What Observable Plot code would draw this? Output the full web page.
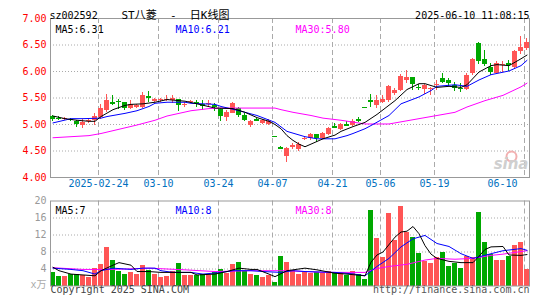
<!DOCTYPE html>
<html><head><meta charset="utf-8">
<script src="https://cdn.jsdelivr.net/npm/d3@7"></script>
<script src="https://cdn.jsdelivr.net/npm/@observablehq/plot@0.6"></script>
<style>
body{margin:0;background:#fff;}
#wrap{position:relative;width:545px;height:300px;overflow:hidden;background:#fff;}
#wrap svg{position:absolute;left:0;}
#wrap svg text{white-space:pre;}
</style></head><body><div id="wrap"></div>
<script>
// ---- data ----
const stockCode = "sz002592";
const chartTitle = "ST八菱  -  日K线图";
const stamp = "2025-06-10 11:08:15";
const tickIdx = [8, 18, 28, 37, 47, 55, 64, 79];
const tickLabels = ["2025-02-24", "03-10", "03-24", "04-07", "04-21", "05-06", "05-19", "06-10"];
const priceTicks = [7.0, 6.5, 6.0, 5.5, 5.0, 4.5, 4.0];
const priceGrid = [6.5, 6.0, 5.5, 5.0, 4.5];
const volTicks = [20, 16, 12, 8, 4];
const volGrid = [16, 12, 8, 4];
const priceMaLabels = ["MA5:6.31", "MA10:6.21", "MA30:5.80"];
const volMaLabels = ["MA5:7", "MA10:8", "MA30:8"];
const volUnit = "x万";
const copyright = "Copyright 2025 SINA.COM";
const siteUrl = "http://finance.sina.com.cn";

const open = [5.15,5.12,5.09,5.10,5.06,4.98,5.06,5.08,5.14,5.26,
  5.41,5.44,5.41,5.31,5.32,5.33,5.52,5.43,5.45,5.45,
  5.45,5.47,5.36,5.42,5.41,5.37,5.39,5.36,5.28,5.13,
  5.21,5.30,5.17,4.98,5.09,5.02,5.00,4.77,4.56,4.40,
  4.57,4.53,4.72,4.74,4.81,4.73,4.81,4.96,4.90,5.00,
  4.99,5.09,5.32,5.45,5.35,5.42,5.45,5.58,5.64,5.83,
  5.88,5.70,5.66,5.67,5.75,5.86,5.83,5.74,5.68,5.66,
  5.97,6.53,6.23,6.08,5.96,6.12,6.15,6.08,6.37,6.43];
const close = [5.10,5.11,5.11,5.09,5.00,5.04,5.08,5.15,5.31,5.45,
  5.40,5.43,5.31,5.37,5.35,5.55,5.51,5.48,5.47,5.48,
  5.49,5.36,5.37,5.43,5.40,5.36,5.40,5.32,5.15,5.23,
  5.40,5.17,5.08,5.06,5.08,5.08,5.05,4.77,4.54,4.54,
  4.60,4.63,4.73,4.81,4.74,4.83,4.93,4.95,5.00,4.99,
  5.06,5.08,5.32,5.44,5.45,5.48,5.72,5.64,5.91,5.89,
  5.75,5.69,5.73,5.68,5.76,5.79,5.77,5.67,5.67,5.92,
  6.22,6.18,6.13,5.99,6.15,6.13,6.14,6.38,6.46,6.55];
const high = [5.17,5.16,5.13,5.12,5.08,5.10,5.12,5.20,5.37,5.56,
  5.55,5.47,5.42,5.45,5.37,5.61,5.62,5.50,5.50,5.55,
  5.55,5.48,5.42,5.46,5.45,5.45,5.45,5.39,5.31,5.26,
  5.42,5.33,5.20,5.08,5.12,5.10,5.09,4.77,4.58,4.56,
  4.64,4.66,4.76,4.83,4.82,4.84,4.95,5.01,5.01,5.06,
  5.09,5.14,5.32,5.57,5.55,5.55,5.74,5.68,5.94,6.02,
  5.89,5.75,5.75,5.70,5.83,5.97,5.86,5.80,5.77,5.96,
  6.24,6.54,6.40,6.15,6.18,6.18,6.20,6.40,6.66,6.62];
const low = [5.06,5.07,5.07,5.05,4.95,4.92,5.02,4.99,5.10,5.23,
  5.36,5.29,5.26,5.29,5.30,5.30,5.42,5.41,5.42,5.44,
  5.40,5.25,5.32,5.39,5.32,5.27,5.34,5.25,5.06,5.06,
  5.20,5.13,5.05,4.95,5.05,5.00,4.98,4.77,4.53,4.29,
  4.53,4.50,4.69,4.70,4.66,4.72,4.80,4.92,4.88,4.96,
  4.97,5.04,5.32,5.33,5.30,5.39,5.42,5.55,5.63,5.77,
  5.64,5.64,5.57,5.55,5.64,5.77,5.71,5.63,5.61,5.64,
  5.93,6.13,6.10,5.93,5.94,5.99,6.00,6.06,6.33,6.40];
const volume = [3.2,2.2,2.2,2.7,2.8,2.4,2.0,4.1,5.0,9.0,
  6.0,3.5,2.8,3.2,2.7,4.8,3.6,2.8,2.0,2.3,
  3.3,5.3,2.4,2.4,2.4,2.8,2.4,3.1,3.9,3.0,
  5.0,5.5,3.4,2.8,2.4,2.1,2.4,0.9,6.9,5.5,
  3.6,2.8,3.4,3.0,3.1,2.9,3.3,3.0,2.9,2.4,
  3.4,2.8,1.5,17.8,11.1,6.7,17.0,10.8,18.8,12.7,
  11.4,7.6,5.8,5.3,6.7,8.0,4.5,5.3,4.1,6.9,
  6.7,17.3,10.2,7.5,5.9,5.9,6.9,9.6,10.2,4.0];

// moving-average lines (index, value)
const ma5Idx = [0,2,4,6,7,8,10,12,13,15,17,19,21,22,24,27,30,32,34,36,37,38,39,40,41,42,43,45,47,48,50,52,54,57,59,61,62,64,66,68,69,71,73,74,76,78,79];
const ma5Val = [5.16,5.11,5.08,5.06,5.06,5.15,5.28,5.36,5.38,5.39,5.42,5.47,5.45,5.44,5.39,5.31,5.30,5.23,5.13,5.06,5.00,4.92,4.79,4.70,4.63,4.58,4.63,4.73,4.80,4.87,4.96,5.04,5.19,5.45,5.66,5.77,5.77,5.70,5.72,5.70,5.75,5.99,6.11,6.13,6.11,6.24,6.31];
const ma10Idx = [0,3,5,8,9,12,14,16,17,19,22,23,27,28,31,34,37,39,42,44,47,49,50,52,53,56,58,61,63,64,67,69,71,73,76,78,79];
const ma10Val = [5.03,5.11,5.11,5.12,5.15,5.21,5.26,5.34,5.40,5.42,5.42,5.40,5.38,5.34,5.26,5.17,5.04,4.87,4.77,4.73,4.73,4.79,4.83,4.92,4.98,5.17,5.39,5.52,5.64,5.72,5.75,5.72,5.84,5.94,6.01,6.11,6.21];
const ma30Idx = [0,6,8,11,14,17,19,23,26,28,37,38,40,43,45,48,52,56,58,61,64,67,69,72,75,78,79];
const ma30Val = [4.75,4.79,4.83,4.91,4.99,5.08,5.16,5.26,5.30,5.31,5.31,5.28,5.23,5.17,5.12,5.08,5.01,5.01,5.05,5.11,5.17,5.23,5.33,5.45,5.55,5.71,5.78];

const vma5Idx = [0,1,3,5,7,8,10,11,13,14,16,18,21,23,24,27,29,31,33,34,36,37,39,42,44,47,49,52,53,54,55,57,58,59,60,61,62,63,64,66,68,70,71,72,73,75,76,78,79];
const vma5Val = [4.4,3.6,2.8,2.6,2.4,3.6,4.9,5.5,4.9,3.4,3.4,3.2,3.2,3.2,2.6,2.8,3.4,4.2,3.9,3.9,2.8,2.2,3.6,4.2,3.8,3.0,2.8,2.4,5.6,7.3,8.0,11.5,12.7,12.9,14.0,12.3,9.5,7.5,6.5,5.8,5.5,5.5,7.0,8.6,9.2,9.3,7.3,7.2,7.4];
const vma10Idx = [0,3,5,7,8,10,13,15,17,18,20,23,25,28,30,33,35,38,40,42,47,50,52,54,56,58,60,62,64,66,68,70,73,75,78,79];
const vma10Val = [4.2,3.9,3.6,2.8,3.6,4.2,3.9,4.2,4.2,3.6,3.2,3.2,2.8,3.2,3.6,3.6,3.4,3.2,3.6,3.4,3.2,2.85,2.4,4.6,6.5,9.2,11.1,11.9,10.0,9.3,7.6,6.5,7.6,8.3,8.8,8.4];
const vma30Idx = [0,5,10,16,22,27,33,39,45,52,54,56,59,62,64,67,70,73,75,79];
const vma30Val = [4.3,3.9,3.9,4.2,3.8,3.4,3.6,3.6,3.2,3.2,4.1,4.6,5.1,6.1,6.5,6.3,6.5,7.2,7.5,8.3];

// ---- styles ----
const RED = "#ff5555", GREEN = "#00a800";
const FONT = "DejaVu Sans Mono";
const GRIDC = "#aaaaaa", FRAMEC = "#999999";

const bars = open.map((o, i) => ({i, o, c: close[i], h: high[i], l: low[i], v: volume[i]}));
const up = bars.filter(d => d.c > d.o);
const dn = bars.filter(d => d.c <= d.o);
const W = 5 / 6, MID = 2 / 6, LMID = 2.5 / 6;

function candleMarks(g, col) {
  return [
    Plot.ruleX(g, {x: d => d.i + MID, y1: "l", y2: "h", stroke: col, shapeRendering: "crispEdges"}),
    Plot.rect(g, {x1: "i", x2: d => d.i + W, y1: "o", y2: "c", fill: col, shapeRendering: "crispEdges"}),
    Plot.ruleY(g.filter(d => Math.abs(d.c - d.o) < 0.03), {x1: "i", x2: d => d.i + W, y: "c", stroke: col, shapeRendering: "crispEdges"})
  ];
}
function maLine(idx, vals, col) {
  return Plot.line(idx, {x: d => d + LMID, y: (d, k) => vals[k], stroke: col, strokeWidth: 1});
}

const xDomain = [0, 79.8333];

const price = Plot.plot({
  width: 545, height: 192,
  marginLeft: 50, marginRight: 16, marginTop: 18, marginBottom: 15,
  x: {domain: xDomain, axis: null},
  y: {domain: [4, 7], axis: null},
  style: {fontFamily: FONT, fontSize: "10px", background: "transparent", overflow: "visible"},
  marks: [
    Plot.ruleY(priceGrid, {stroke: GRIDC, strokeDasharray: "1,2"}),
    Plot.ruleX(tickIdx, {stroke: GRIDC, strokeDasharray: "5,3"}),
    Plot.frame({stroke: FRAMEC}),
    // sina watermark (logo ring + word)
    Plot.dot([0], {frameAnchor: "bottom-right", dx: -18, dy: -21, r: 5, stroke: "#f2b0b0", strokeWidth: 2, fill: "none"}),
    Plot.text(["sina"], {frameAnchor: "bottom-right", dx: -1, dy: -9, textAnchor: "end", fill: "#cfcfcf", fontSize: 15, fontStyle: "italic", fontWeight: "bold", fontFamily: "DejaVu Sans"}),
    ...candleMarks(up, RED),
    ...candleMarks(dn, GREEN),
    maLine(ma30Idx, ma30Val, "#ff00ff"),
    maLine(ma10Idx, ma10Val, "#0000ff"),
    maLine(ma5Idx, ma5Val, "#000000"),
    // y labels
    Plot.text(priceTicks, {y: d => d, text: d => d.toFixed(2), frameAnchor: "left", dx: -4, textAnchor: "end", fill: "#ff0000"}),
    // x labels
    Plot.text(tickIdx.slice(0, -1), {x: d => d, text: (d, k) => tickLabels[k], frameAnchor: "bottom", dy: 9, fill: "#0070c0"}),
    Plot.text(tickIdx.slice(-1), {x: d => d, text: () => tickLabels[tickLabels.length - 1], frameAnchor: "bottom", dy: 9, dx: -7, textAnchor: "end", fill: "#0070c0"}),
    // MA labels
    Plot.text([priceMaLabels[0]], {frameAnchor: "top-left", dx: 5, dy: 7, textAnchor: "start", fill: "#000"}),
    Plot.text([priceMaLabels[1]], {frameAnchor: "top-left", dx: 125, dy: 7, textAnchor: "start", fill: "#0000ff"}),
    Plot.text([priceMaLabels[2]], {frameAnchor: "top-left", dx: 245, dy: 7, textAnchor: "start", fill: "#ff00ff"}),
    // header
    Plot.text([stockCode], {frameAnchor: "top-left", dx: -1, dy: -6.5, textAnchor: "start", fill: "#000"}),
    Plot.text([chartTitle], {frameAnchor: "top-left", dx: 71, dy: -7, textAnchor: "start", fill: "#000", fontFamily: "DejaVu Sans Mono, Noto Sans CJK SC", fontSize: 11}),
    Plot.text([stamp], {frameAnchor: "top-right", dx: 0, dy: -6.5, textAnchor: "end", fill: "#000"})
  ]
});
price.style.top = "0px";

const vol = Plot.plot({
  width: 545, height: 110,
  marginLeft: 50, marginRight: 16, marginTop: 10.5, marginBottom: 14.5,
  x: {domain: xDomain, axis: null},
  y: {domain: [0, 20], axis: null},
  style: {fontFamily: FONT, fontSize: "10px", background: "transparent", overflow: "visible"},
  marks: [
    Plot.ruleY(volGrid, {stroke: GRIDC, strokeDasharray: "1,2"}),
    Plot.ruleX(tickIdx, {stroke: GRIDC, strokeDasharray: "5,3"}),
    Plot.rect(up, {x1: "i", x2: d => d.i + W, y1: () => 0, y2: "v", fill: RED, shapeRendering: "crispEdges"}),
    Plot.rect(dn, {x1: "i", x2: d => d.i + W, y1: () => 0, y2: "v", fill: GREEN, shapeRendering: "crispEdges"}),
    maLine(vma30Idx, vma30Val, "#ff00ff"),
    maLine(vma10Idx, vma10Val, "#0000ff"),
    maLine(vma5Idx, vma5Val, "#000000"),
    Plot.frame({stroke: FRAMEC}),
    Plot.text(volTicks, {y: d => d, text: d => String(d), frameAnchor: "left", dx: -4, textAnchor: "end", fill: "#999"}),
    Plot.text([volUnit], {frameAnchor: "bottom-left", dx: -4, dy: 2, textAnchor: "end", fill: "#aaa", fontFamily: "DejaVu Sans Mono, Noto Sans CJK SC"}),
    Plot.text([volMaLabels[0]], {frameAnchor: "top-left", dx: 5, dy: 5.5, textAnchor: "start", fill: "#000"}),
    Plot.text([volMaLabels[1]], {frameAnchor: "top-left", dx: 125, dy: 5.5, textAnchor: "start", fill: "#0000ff"}),
    Plot.text([volMaLabels[2]], {frameAnchor: "top-left", dx: 245, dy: 5.5, textAnchor: "start", fill: "#ff00ff"}),
    Plot.text([copyright], {frameAnchor: "bottom-left", dx: 0, dy: 7, textAnchor: "start", fill: "#444"}),
    Plot.text([siteUrl], {frameAnchor: "bottom-right", dx: 0, dy: 7, textAnchor: "end", fill: "#555"})
  ]
});
vol.style.top = "190px";

const wrap = document.getElementById("wrap");
wrap.appendChild(price);
wrap.appendChild(vol);
</script>
</body></html>
